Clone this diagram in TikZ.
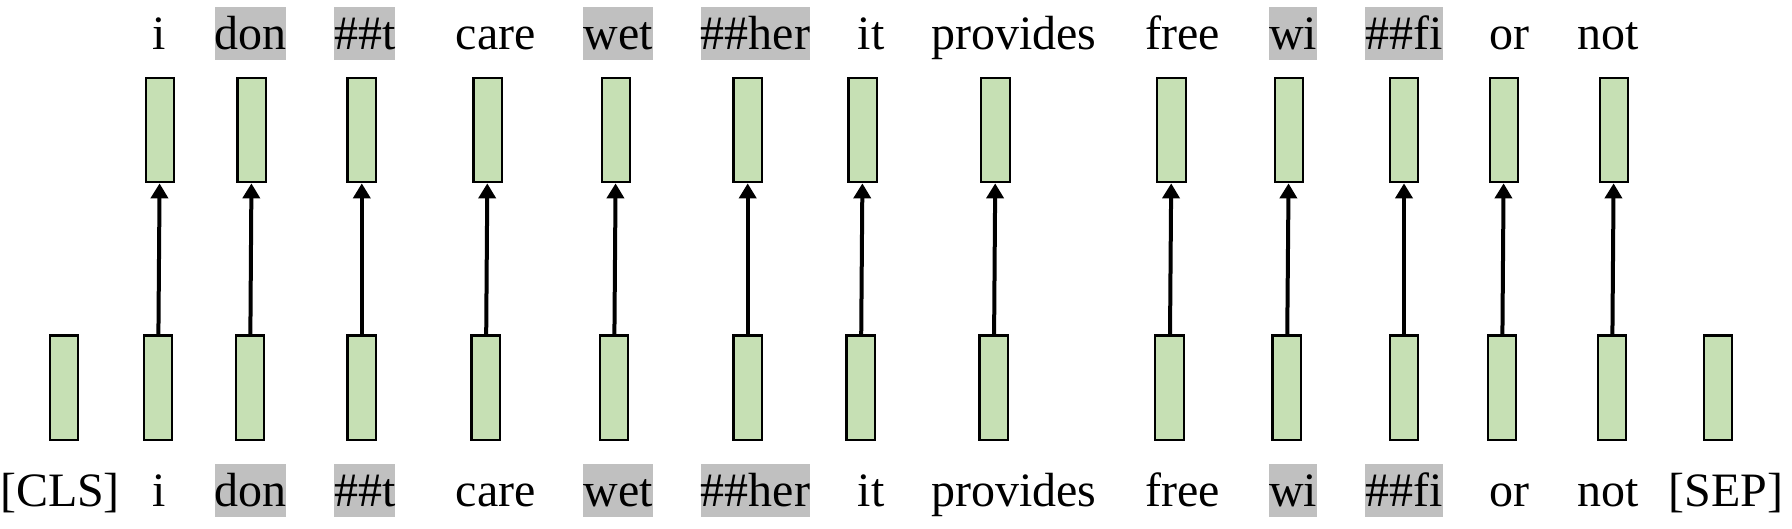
\documentclass[tikz,border=0pt]{standalone}
\usepackage{fontspec}
\setmainfont{Liberation Serif}
\usetikzlibrary{arrows.meta, positioning}
\definecolor{vecgreen}{HTML}{C6E0B4}
\definecolor{hlgray}{HTML}{C0C0C0}

\begin{document}
\begin{tikzpicture}[x=0.02cm, y=0.02cm,
        font=\fontsize{27.3}{32}\selectfont,
        vec/.style={draw, fill=vecgreen, line width=0.045cm, minimum width=0.57cm, minimum height=2.09cm, inner sep=0},
        word/.style={anchor=base, inner xsep=0, inner ysep=0, text height=0.86cm, text depth=0.21cm},
        link/.style={line width=0.08cm, -{Triangle[width=0.34cm, length=0.3cm]}}]
            \useasboundingbox (0,0) rectangle (1792,528);
            \node[vec] (clsvec) at (64,140.25) {};
            \node[word] (cls) at (60,21.5) {[CLS]};
            \node[vec] (sepvec) at (1718,140.25) {};
            \node[word] (sep) at (1726,21.5) {[SEP]};
            \foreach \i/\w/\hl/\tx/\bx/\ux in {1/i/none/159/158/160, 2/don/hlgray/250.5/250/251.8,
                3/\#\#t/hlgray/364.8/361.8/361.8, 4/care/none/495.8/485.8/487.7,
                5/wet/hlgray/618/614/616, 6/\#\#her/hlgray/755.5/747.7/747.7,
                7/it/none/871/860.8/862.8, 8/provides/none/1014/993.7/995.6,
                9/free/none/1182.5/1169.6/1171.6, 10/wi/hlgray/1293/1286.8/1289,
                11/\#\#fi/hlgray/1404/1404/1404, 12/or/none/1509/1502/1504,
                13/not/none/1608/1612/1614}{
                \node[word, fill=\hl] (in\i) at (\tx,21.5) {\w};
                \node[vec] (inv\i) at (\bx,140.25) {};
                \node[vec] (outv\i) at (\ux,398) {};
                \node[word, fill=\hl] (out\i) at (\tx,478) {\w};
                \draw[link] (inv\i) -- (outv\i);
            }
        \end{tikzpicture}
\end{document}
